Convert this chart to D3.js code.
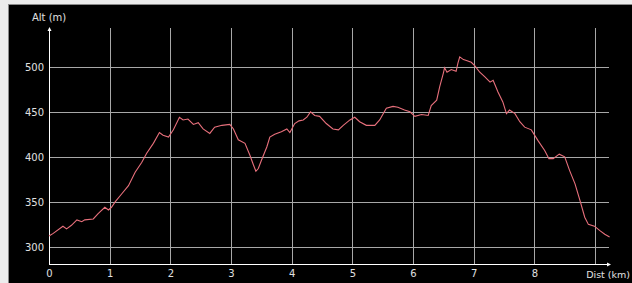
<!DOCTYPE html>
<html>
<head>
<meta charset="utf-8">
<script src="https://cdn.jsdelivr.net/npm/d3@7"></script>
<style>
  body { margin: 0; background: #ececec; }
  svg { display: block; }
</style>
</head>
<body>
<script>
// elevation profile data (km, m)
var dist = [0, 0.07, 0.23, 0.29, 0.37, 0.46, 0.54, 0.59, 0.73, 0.81, 0.92, 0.98, 1.03, 1.09, 1.20, 1.31, 1.42, 1.53, 1.61, 1.72, 1.82, 1.88, 1.97, 2.05, 2.15, 2.21, 2.29, 2.38, 2.46, 2.54, 2.65, 2.73, 2.85, 2.98, 3.04, 3.12, 3.23, 3.31, 3.37, 3.41, 3.45, 3.50, 3.59, 3.64, 3.72, 3.83, 3.92, 3.97, 4.05, 4.12, 4.19, 4.25, 4.31, 4.38, 4.46, 4.57, 4.68, 4.77, 4.85, 4.96, 5.04, 5.12, 5.23, 5.37, 5.45, 5.56, 5.67, 5.75, 5.86, 5.95, 6.03, 6.14, 6.25, 6.30, 6.39, 6.44, 6.50, 6.52, 6.56, 6.63, 6.71, 6.74, 6.77, 6.83, 6.88, 6.96, 7.02, 7.10, 7.18, 7.27, 7.32, 7.40, 7.48, 7.54, 7.59, 7.68, 7.76, 7.84, 7.95, 8.06, 8.17, 8.24, 8.31, 8.41, 8.50, 8.58, 8.67, 8.75, 8.83, 8.89, 8.99, 9.08, 9.16, 9.24];
var alt = [312, 315, 323, 320, 324, 330, 328, 330, 331, 337, 344, 341, 344, 350, 359, 368, 383, 394, 404, 415, 427, 424, 422, 430, 444, 441, 442, 436, 438, 431, 426, 433, 435, 436, 431, 419, 415, 402, 391, 384, 387, 396, 411, 422, 425, 428, 431, 427, 437, 440, 441, 444, 450, 446, 445, 437, 431, 430, 435, 441, 444, 439, 435, 435, 441, 454, 456, 455, 452, 450, 445, 447, 446, 457, 463, 478, 493, 499, 494, 497, 495, 504, 511, 508, 507, 505, 501, 494, 489, 483, 485, 472, 461, 448, 452, 448, 439, 433, 430, 418, 407, 398, 398, 403, 400, 385, 370, 352, 333, 325, 323, 318, 314, 311];

var xTicks = [0, 1, 2, 3, 4, 5, 6, 7, 8];
var yTicks = [300, 350, 400, 450, 500];

var width = 632, height = 283;

var svg = d3.select("body").append("svg")
    .attr("width", width)
    .attr("height", height);

// frame
svg.append("rect")
    .attr("x", 8.5).attr("y", 4.5)
    .attr("width", width).attr("height", height)
    .attr("fill", "#000")
    .attr("stroke", "#8a8a8a");

var x = d3.scaleLinear()
    .domain([0, 9.23])
    .range([49, 609]);

var y = d3.scaleLinear()
    .domain([281, 542])
    .range([264, 29]);

// grid lines
svg.append("g").selectAll("line")
    .data(xTicks.concat([9]).filter(function(d) { return d > 0; }))
    .enter().append("line")
    .attr("x1", function(d) { return Math.round(x(d)) + 0.5; })
    .attr("x2", function(d) { return Math.round(x(d)) + 0.5; })
    .attr("y1", 28)
    .attr("y2", 264)
    .attr("stroke", "#a8a8a8");

svg.append("g").selectAll("line")
    .data(yTicks)
    .enter().append("line")
    .attr("x1", 49)
    .attr("x2", 609)
    .attr("y1", function(d) { return Math.round(y(d)) + 0.5; })
    .attr("y2", function(d) { return Math.round(y(d)) + 0.5; })
    .attr("stroke", "#a8a8a8");

// axes
var yAxis = d3.axisLeft(y).tickValues(yTicks).tickSize(0).tickPadding(5);
var xAxis = d3.axisBottom(x).tickValues(xTicks).tickSize(0).tickPadding(6);

function customYAxis(g) {
    g.call(yAxis);
    g.select(".domain").remove();
    g.selectAll(".tick text")
        .attr("fill", "#e0e0e0")
        .attr("font-family", "DejaVu Sans")
        .attr("font-size", "10px");
}

function customXAxis(g) {
    g.call(xAxis);
    g.select(".domain").remove();
    g.selectAll(".tick text")
        .attr("fill", "#e0e0e0")
        .attr("font-family", "DejaVu Sans")
        .attr("font-size", "10px");
}

svg.append("g").attr("transform", "translate(49,0)").call(customYAxis);
svg.append("g").attr("transform", "translate(0,264)").call(customXAxis);

svg.append("line")
    .attr("x1", 49.5).attr("x2", 49.5)
    .attr("y1", 29).attr("y2", 264)
    .attr("stroke", "#fff");
svg.append("line")
    .attr("x1", 49).attr("x2", 610)
    .attr("y1", 264.5).attr("y2", 264.5)
    .attr("stroke", "#fff");
svg.append("path")
    .attr("d", "M47.5,31 L49.5,27 L51.5,31 Z")
    .attr("fill", "#fff");
svg.append("path")
    .attr("d", "M607,262.5 L611,264.5 L607,266.5 Z")
    .attr("fill", "#fff");

svg.append("text")
    .attr("x", 32).attr("y", 21)
    .attr("fill", "#e0e0e0")
    .attr("font-family", "DejaVu Sans")
    .attr("font-size", "10px")
    .text("Alt (m)");

svg.append("text")
    .attr("x", 630).attr("y", 278)
    .attr("text-anchor", "end")
    .attr("fill", "#e0e0e0")
    .attr("font-family", "DejaVu Sans")
    .attr("font-size", "9.5px")
    .text("Dist (km)");

// profile line
var line = d3.line()
    .x(function(d, i) { return x(dist[i]); })
    .y(function(d) { return y(d); });

svg.append("path")
    .datum(alt)
    .attr("fill", "none")
    .attr("stroke", "#e8707c")
    .attr("stroke-width", 1.1)
    .attr("d", line);
</script>
</body>
</html>
